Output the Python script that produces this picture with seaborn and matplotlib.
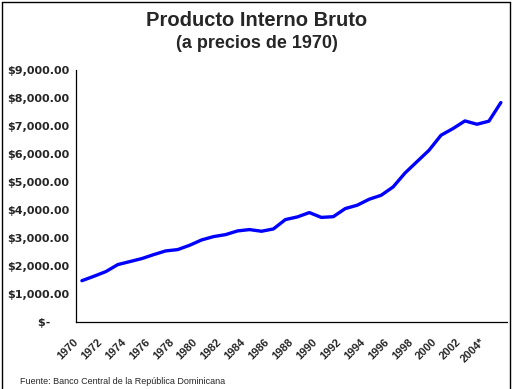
import matplotlib
matplotlib.use("Agg")
import matplotlib.pyplot as plt
import matplotlib.transforms as mtransforms
from matplotlib.lines import Line2D
import numpy as np
import pandas as pd
import seaborn as sns

# Data
years = list(range(1970, 2006))
gdp = [1485, 1643, 1810, 2060, 2167, 2274, 2417, 2548, 2595, 2750,
       2940, 3060, 3130, 3262, 3310, 3250, 3333, 3667, 3762, 3917,
       3745, 3770, 4060, 4180, 4393, 4536, 4833, 5333, 5738, 6143,
       6679, 6917, 7190, 7071, 7180, 7845]
xtick_labels = ["1970", "1972", "1974", "1976", "1978", "1980", "1982", "1984", "1986",
                "1988", "1990", "1992", "1994", "1996", "1998", "2000", "2002", "2004*"]
ytick_values = [0, 1000, 2000, 3000, 4000, 5000, 6000, 7000, 8000, 9000]
ytick_labels = ["$-\u2007\u2007 ", "$1,000.00", "$2,000.00", "$3,000.00", "$4,000.00",
                "$5,000.00", "$6,000.00", "$7,000.00", "$8,000.00", "$9,000.00"]

sns.set_style("white")
plt.rcParams["font.family"] = ["DejaVu Sans"]

df = pd.DataFrame({"pos": np.arange(len(years)), "year": years, "pib": gdp})

fig = plt.figure(figsize=(5.13, 3.89), dpi=100)
ax = fig.add_axes([0.148, 0.1715, 0.840, 0.648])
sns.lineplot(data=df, x="pos", y="pib", color="#0000ff", linewidth=2.4, ax=ax)

ax.set_xlim(-0.5, len(years) - 0.5)
ax.set_ylim(0, 9000)
ax.set_xlabel("")
ax.set_ylabel("")
for side in ["top", "right"]:
    ax.spines[side].set_visible(False)
for side in ["left", "bottom"]:
    ax.spines[side].set_color("black")
    ax.spines[side].set_linewidth(0.9)

ax.set_yticks(ytick_values)
ax.set_yticklabels(ytick_labels, fontsize=8, fontweight="bold")
ax.tick_params(axis="y", length=4, width=0.9, color="black", pad=0.8)

ax.set_xticks(np.arange(0, len(years), 2))
ax.set_xticklabels(xtick_labels, rotation=45, ha="right", va="center",
                   rotation_mode="anchor", fontsize=8, fontweight="bold",
                   family=["Liberation Sans"])
ax.set_xticks(np.arange(-0.5, len(years), 1), minor=True)
ax.tick_params(axis="x", which="major", length=0, pad=13)
ax.tick_params(axis="x", which="minor", length=4, width=0.9, color="black", direction="out")
shift = mtransforms.ScaledTranslation(-0.055, 0, fig.dpi_scale_trans)
for lab in ax.get_xticklabels():
    lab.set_transform(lab.get_transform() + shift)

fig.text(0.5, 1 - 21 / 389, "Producto Interno Bruto", ha="center", va="center",
         fontsize=14.5, fontweight="bold", family=["Liberation Sans"])
fig.text(0.5, 1 - 44 / 389, "(a precios de 1970)", ha="center", va="center",
         fontsize=13, fontweight="bold", family=["Liberation Sans"])
fig.text(20 / 513, 1 - 381 / 389, "Fuente: Banco Central de la República Dominicana",
         ha="left", va="center", fontsize=6.5, family=["Liberation Sans"])

# outer frame
fx0, fx1, fy1 = 1.5 / 513, 509.5 / 513, 1 - 1.5 / 389
fig.add_artist(Line2D([fx0, fx0], [0, fy1], transform=fig.transFigure, color="black", lw=1))
fig.add_artist(Line2D([fx1, fx1], [0, fy1], transform=fig.transFigure, color="black", lw=1))
fig.add_artist(Line2D([fx0, fx1], [fy1, fy1], transform=fig.transFigure, color="black", lw=1))

fig.savefig("out.png", dpi=100)
